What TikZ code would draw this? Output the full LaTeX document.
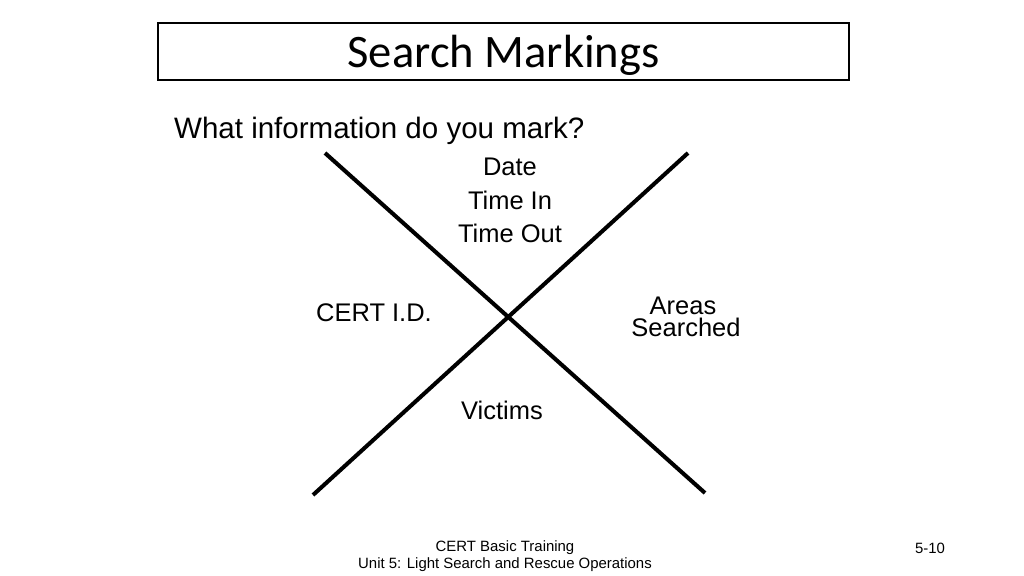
\documentclass[tikz,border=0pt]{standalone}
\usepackage{fontspec}
\setmainfont{Liberation Sans}
\newfontfamily\titlefont{Carlito}
\usetikzlibrary{positioning}

\begin{document}
\begin{tikzpicture}[x=0.02cm,y=-0.02cm]
    \tikzset{quadlabel/.style={font=\fontsize{14.5pt}{16pt}\selectfont,inner sep=0pt},
             arm/.style={line width=2.3pt}}
    \useasboundingbox (0,0) rectangle (1024,575);
    % Titolo
    \node[draw,line width=0.6pt,minimum width=691*0.02cm,minimum height=57*0.02cm] (title) at (503.5,51.5) {};
    \node[font=\titlefont\fontsize{26.5pt}{28pt}\selectfont] at (503.5,55) {Search Markings};
    \node[anchor=west,font=\fontsize{16.8pt}{18pt}\selectfont] (question) at (168,131) {What information do you mark?};

    % Croce
    \coordinate (nw) at (325,153);
    \coordinate (se) at (705,493);
    \coordinate (ne) at (688,153);
    \coordinate (sw) at (313,495);
    \draw[arm] (nw) -- (se);
    \draw[arm] (ne) -- (sw);

    % Quadranti
    \node[quadlabel] (date) at (510,167) {Date};
    \node[quadlabel] (timein) at (510,200) {Time In};
    \node[quadlabel] (timeout) at (510,233) {Time Out};
    \node[quadlabel] (left) at (374,313) {CERT I.D.};
    \node[quadlabel] (areas) at (683,306) {Areas};
    \node[quadlabel] (searched) at (686,327) {Searched};
    \node[quadlabel] (bottom) at (502,410) {Victims};

    % Piè di pagina
    \node[font=\fontsize{8.5pt}{10pt}\selectfont,align=center] (footer) at (505,556) {CERT Basic Training\\Unit 5: Light Search and Rescue Operations};
    \node[font=\fontsize{8.5pt}{10pt}\selectfont] (page) at (930,548) {5-10};
\end{tikzpicture}
\end{document}
